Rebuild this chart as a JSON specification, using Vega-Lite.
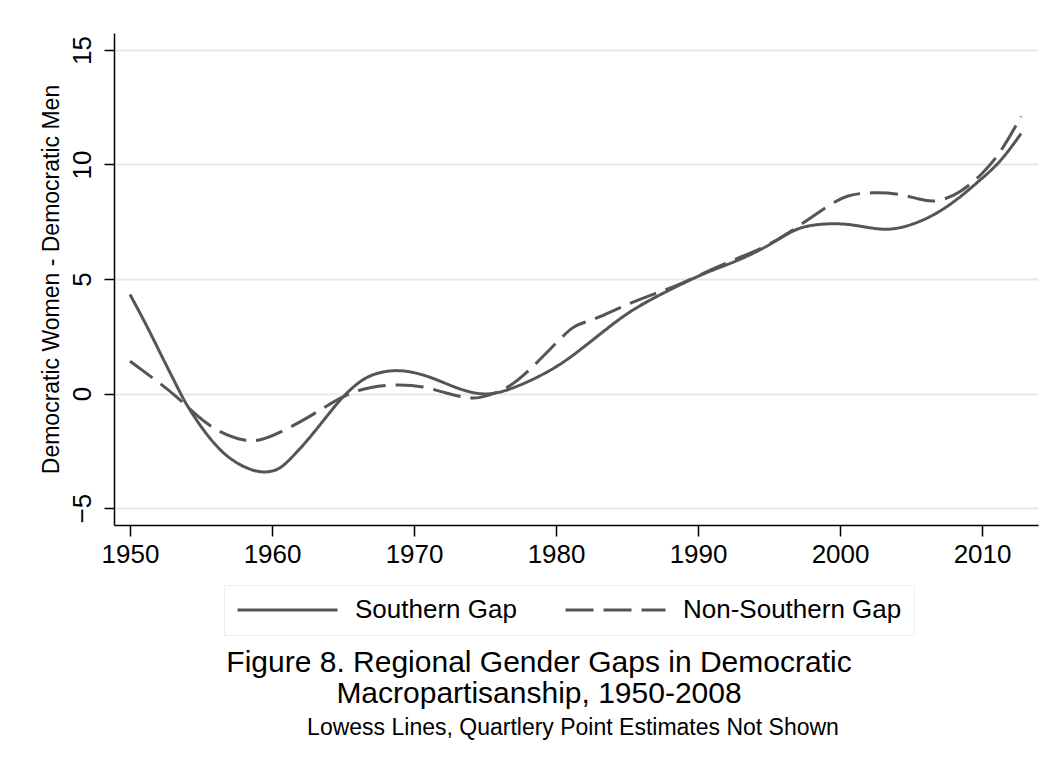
{
  "$schema": "https://vega.github.io/schema/vega-lite/v6.json",
  "autosize": {"type": "none"},
  "padding": {"left": 114, "top": 33, "right": 12, "bottom": 242},
  "width": 924,
  "height": 492,
  "background": "white",
  "data": {"values": [
    {"year": 1950.0, "gap": 4.32, "series": "Southern Gap"},
    {"year": 1951.2, "gap": 2.94, "series": "Southern Gap"},
    {"year": 1952.1, "gap": 1.79, "series": "Southern Gap"},
    {"year": 1953.3, "gap": 0.32, "series": "Southern Gap"},
    {"year": 1954.0, "gap": -0.55, "series": "Southern Gap"},
    {"year": 1955.6, "gap": -2.0, "series": "Southern Gap"},
    {"year": 1957.0, "gap": -2.88, "series": "Southern Gap"},
    {"year": 1958.5, "gap": -3.35, "series": "Southern Gap"},
    {"year": 1959.4, "gap": -3.45, "series": "Southern Gap"},
    {"year": 1960.2, "gap": -3.38, "series": "Southern Gap"},
    {"year": 1960.8, "gap": -3.17, "series": "Southern Gap"},
    {"year": 1961.7, "gap": -2.59, "series": "Southern Gap"},
    {"year": 1962.7, "gap": -1.9, "series": "Southern Gap"},
    {"year": 1964.1, "gap": -0.8, "series": "Southern Gap"},
    {"year": 1965.0, "gap": -0.12, "series": "Southern Gap"},
    {"year": 1966.0, "gap": 0.45, "series": "Southern Gap"},
    {"year": 1967.0, "gap": 0.85, "series": "Southern Gap"},
    {"year": 1968.8, "gap": 1.08, "series": "Southern Gap"},
    {"year": 1970.7, "gap": 0.83, "series": "Southern Gap"},
    {"year": 1972.1, "gap": 0.47, "series": "Southern Gap"},
    {"year": 1973.5, "gap": 0.12, "series": "Southern Gap"},
    {"year": 1975.1, "gap": -0.1, "series": "Southern Gap"},
    {"year": 1976.8, "gap": 0.17, "series": "Southern Gap"},
    {"year": 1978.9, "gap": 0.76, "series": "Southern Gap"},
    {"year": 1980.5, "gap": 1.34, "series": "Southern Gap"},
    {"year": 1981.9, "gap": 2.0, "series": "Southern Gap"},
    {"year": 1983.8, "gap": 2.94, "series": "Southern Gap"},
    {"year": 1985.2, "gap": 3.59, "series": "Southern Gap"},
    {"year": 1987.1, "gap": 4.25, "series": "Southern Gap"},
    {"year": 1989.0, "gap": 4.83, "series": "Southern Gap"},
    {"year": 1990.8, "gap": 5.35, "series": "Southern Gap"},
    {"year": 1992.6, "gap": 5.74, "series": "Southern Gap"},
    {"year": 1994.7, "gap": 6.36, "series": "Southern Gap"},
    {"year": 1996.0, "gap": 6.87, "series": "Southern Gap"},
    {"year": 1997.3, "gap": 7.32, "series": "Southern Gap"},
    {"year": 1999.4, "gap": 7.44, "series": "Southern Gap"},
    {"year": 2000.9, "gap": 7.38, "series": "Southern Gap"},
    {"year": 2002.8, "gap": 7.14, "series": "Southern Gap"},
    {"year": 2004.2, "gap": 7.19, "series": "Southern Gap"},
    {"year": 2006.1, "gap": 7.6, "series": "Southern Gap"},
    {"year": 2008.0, "gap": 8.32, "series": "Southern Gap"},
    {"year": 2009.9, "gap": 9.34, "series": "Southern Gap"},
    {"year": 2011.3, "gap": 10.1, "series": "Southern Gap"},
    {"year": 2012.75, "gap": 11.35, "series": "Southern Gap"},
    {"year": 1950.0, "gap": 1.41, "series": "Non-Southern Gap"},
    {"year": 1951.6, "gap": 0.68, "series": "Non-Southern Gap"},
    {"year": 1953.3, "gap": -0.12, "series": "Non-Southern Gap"},
    {"year": 1954.7, "gap": -0.99, "series": "Non-Southern Gap"},
    {"year": 1956.3, "gap": -1.72, "series": "Non-Southern Gap"},
    {"year": 1958.2, "gap": -2.1, "series": "Non-Southern Gap"},
    {"year": 1959.2, "gap": -2.06, "series": "Non-Southern Gap"},
    {"year": 1960.8, "gap": -1.64, "series": "Non-Southern Gap"},
    {"year": 1962.7, "gap": -0.99, "series": "Non-Southern Gap"},
    {"year": 1964.1, "gap": -0.44, "series": "Non-Southern Gap"},
    {"year": 1965.5, "gap": 0.03, "series": "Non-Southern Gap"},
    {"year": 1966.9, "gap": 0.29, "series": "Non-Southern Gap"},
    {"year": 1968.8, "gap": 0.41, "series": "Non-Southern Gap"},
    {"year": 1970.7, "gap": 0.32, "series": "Non-Southern Gap"},
    {"year": 1972.3, "gap": 0.0, "series": "Non-Southern Gap"},
    {"year": 1973.7, "gap": -0.2, "series": "Non-Southern Gap"},
    {"year": 1974.6, "gap": -0.21, "series": "Non-Southern Gap"},
    {"year": 1975.8, "gap": 0.03, "series": "Non-Southern Gap"},
    {"year": 1976.8, "gap": 0.32, "series": "Non-Southern Gap"},
    {"year": 1978.2, "gap": 1.05, "series": "Non-Southern Gap"},
    {"year": 1980.0, "gap": 2.21, "series": "Non-Southern Gap"},
    {"year": 1981.2, "gap": 2.94, "series": "Non-Southern Gap"},
    {"year": 1981.9, "gap": 3.09, "series": "Non-Southern Gap"},
    {"year": 1983.3, "gap": 3.38, "series": "Non-Southern Gap"},
    {"year": 1985.2, "gap": 3.96, "series": "Non-Southern Gap"},
    {"year": 1987.1, "gap": 4.39, "series": "Non-Southern Gap"},
    {"year": 1989.0, "gap": 4.83, "series": "Non-Southern Gap"},
    {"year": 1990.4, "gap": 5.27, "series": "Non-Southern Gap"},
    {"year": 1992.3, "gap": 5.78, "series": "Non-Southern Gap"},
    {"year": 1994.6, "gap": 6.36, "series": "Non-Southern Gap"},
    {"year": 1996.0, "gap": 6.87, "series": "Non-Southern Gap"},
    {"year": 1997.1, "gap": 7.31, "series": "Non-Southern Gap"},
    {"year": 1999.1, "gap": 8.18, "series": "Non-Southern Gap"},
    {"year": 2000.5, "gap": 8.69, "series": "Non-Southern Gap"},
    {"year": 2002.3, "gap": 8.79, "series": "Non-Southern Gap"},
    {"year": 2004.2, "gap": 8.73, "series": "Non-Southern Gap"},
    {"year": 2005.6, "gap": 8.47, "series": "Non-Southern Gap"},
    {"year": 2006.8, "gap": 8.33, "series": "Non-Southern Gap"},
    {"year": 2008.5, "gap": 8.76, "series": "Non-Southern Gap"},
    {"year": 2010.1, "gap": 9.63, "series": "Non-Southern Gap"},
    {"year": 2011.3, "gap": 10.5, "series": "Non-Southern Gap"},
    {"year": 2012.75, "gap": 12.1, "series": "Non-Southern Gap"}
  ]},
  "mark": {"type": "line", "interpolate": "basis", "color": "#555555", "strokeWidth": 3, "clip": true},
  "encoding": {
    "x": {
      "field": "year", "type": "quantitative",
      "scale": {"domain": [1948.87, 2013.94], "nice": false, "zero": false},
      "axis": {
        "title": null, "values": [1950, 1960, 1970, 1980, 1990, 2000, 2010],
        "format": "d", "grid": false, "tickSize": 11, "labelPadding": 5
      }
    },
    "y": {
      "field": "gap", "type": "quantitative",
      "scale": {"domain": [-5.74, 15.74], "nice": false, "zero": false},
      "axis": {
        "title": "Democratic Women - Democratic Men",
        "values": [-5, 0, 5, 10, 15], "format": "d",
        "grid": true, "gridColor": "#e8e8e8", "gridWidth": 2,
        "tickSize": 10, "labelAngle": -90, "labelAlign": "center",
        "labelBaseline": "alphabetic", "labelPadding": 14,
        "titleFontSize": 23, "titlePadding": 6
      }
    },
    "strokeDash": {
      "field": "series", "type": "nominal",
      "scale": {"domain": ["Southern Gap", "Non-Southern Gap"], "range": [[1, 0], [28, 10]]},
      "legend": {
        "title": null, "orient": "none", "legendX": 110, "legendY": 552,
        "direction": "horizontal",
        "symbolType": "stroke", "symbolSize": 10000, "symbolStrokeWidth": 3,
        "symbolStrokeColor": "#555555", "clipHeight": 26,
        "labelFontSize": 26, "labelLimit": 400, "labelOffset": 16, "columnPadding": 47,
        "padding": 12, "strokeColor": "#eeeeee", "fillColor": "white"
      }
    }
  },
  "title": {
    "text": ["Figure 8. Regional Gender Gaps in Democratic", "Macropartisanship, 1950-2008"],
    "subtitle": "\u2800\u2800\u2800\u2800Lowess Lines, Quartlery Point Estimates Not Shown",
    "orient": "bottom", "anchor": "middle", "frame": "bounds",
    "fontSize": 30, "fontWeight": "normal", "lineHeight": 31,
    "subtitleFontSize": 23, "subtitlePadding": 8, "offset": 12,
    "color": "black", "subtitleColor": "black"
  },
  "config": {
    "font": "Liberation Sans",
    "view": {"stroke": null},
    "axis": {
      "domainColor": "black", "domainWidth": 1.5, "tickColor": "black", "tickWidth": 1.5,
      "labelFontSize": 26, "labelColor": "black", "labelFont": "Liberation Sans",
      "titleFont": "Liberation Sans", "titleFontWeight": "normal", "titleColor": "black"
    },
    "legend": {"labelFont": "Liberation Sans", "labelColor": "black"}
  }
}
